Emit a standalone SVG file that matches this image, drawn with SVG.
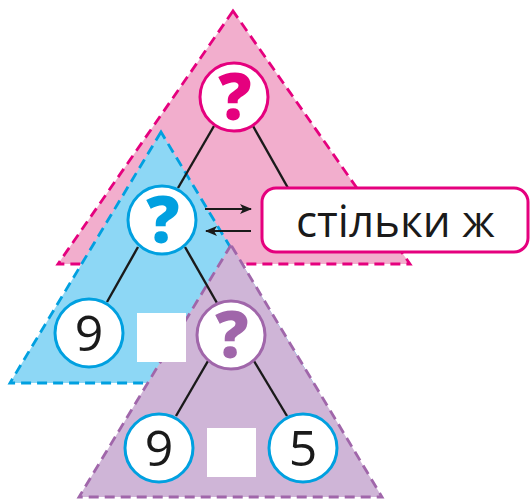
<svg xmlns="http://www.w3.org/2000/svg" width="531" height="499" viewBox="0 0 531 499">
<defs>
<style>
.tri{stroke-width:2.8;stroke-dasharray:10 6;stroke-linejoin:miter}
.edge{stroke:#1a1a1a;stroke-width:2.4;fill:none}
.node{fill:#fff;stroke-width:3}
.q{font-family:"Open Sans","Noto Sans",sans-serif;font-weight:800;font-size:66px;text-anchor:middle}
.num{font-family:"Open Sans","Noto Sans",sans-serif;font-size:50px;fill:#1a1a1a;text-anchor:middle}
.lbl{font-family:"Open Sans","Noto Sans",sans-serif;font-size:44px;fill:#1a1a1a}
</style>
<marker id="ah" viewBox="0 0 12 10" refX="11" refY="5" markerWidth="12" markerHeight="10" markerUnits="userSpaceOnUse" orient="auto">
<path d="M0,0 L12,5 L0,10 L3,5 Z" fill="#1a1a1a"/>
</marker>
</defs>
<g id="triangles">
<polygon class="tri" points="233,11 58,264 410,264" fill="#F2AECD" stroke="#E5007E"/>
<polygon class="tri" points="161,132 10,383 312,383" fill="#8DD7F5" stroke="#00A0E0"/>
<polygon class="tri" points="231,245 79,497 382,497" fill="#CFB5D7" stroke="#A066AA"/>
</g>
<g id="connectors">
<line class="edge" x1="214" y1="126" x2="178" y2="188"/>
<line class="edge" x1="253" y1="126" x2="288" y2="188"/>
<line class="edge" x1="138" y1="247" x2="107" y2="302"/>
<line class="edge" x1="185" y1="247" x2="217" y2="303"/>
<line class="edge" x1="208" y1="361" x2="176" y2="416"/>
<line class="edge" x1="254" y1="361" x2="287" y2="416"/>
<line x1="205" y1="209" x2="251" y2="209" stroke="#1a1a1a" stroke-width="1.8" marker-end="url(#ah)"/>
<line x1="251" y1="231" x2="206" y2="231" stroke="#1a1a1a" stroke-width="1.8" marker-end="url(#ah)"/>
</g>
<g id="label">
<rect x="262" y="188" width="266" height="64" rx="14" fill="#fff" stroke="#E5007E" stroke-width="3"/>
<text class="lbl" x="296" y="237">стільки ж</text>
</g>
<g id="top-q">
<circle class="node" cx="234" cy="97" r="34" stroke="#E5007E"/>
<text class="q" x="235" y="120" fill="#E5007E">?</text>
</g>
<g id="blue-q">
<circle class="node" cx="162" cy="220" r="34" stroke="#00A0E0"/>
<text class="q" x="163" y="243" fill="#00A0E0">?</text>
</g>
<g id="nine-1">
<circle class="node" cx="89" cy="333" r="34" stroke="#00A0E0"/>
<text class="num" x="89" y="351">9</text>
</g>
<g id="square-1"><rect x="137" y="313" width="49" height="49" fill="#fff"/></g>
<g id="purple-q">
<circle class="node" cx="231" cy="335" r="34" stroke="#A066AA"/>
<text class="q" x="232" y="358" fill="#A066AA">?</text>
</g>
<g id="nine-2">
<circle class="node" cx="159" cy="448" r="34" stroke="#00A0E0"/>
<text class="num" x="159" y="466">9</text>
</g>
<g id="square-2"><rect x="207" y="428" width="49" height="49" fill="#fff"/></g>
<g id="five">
<circle class="node" cx="303" cy="448" r="34" stroke="#00A0E0"/>
<text class="num" x="303" y="466">5</text>
</g>
</svg>
